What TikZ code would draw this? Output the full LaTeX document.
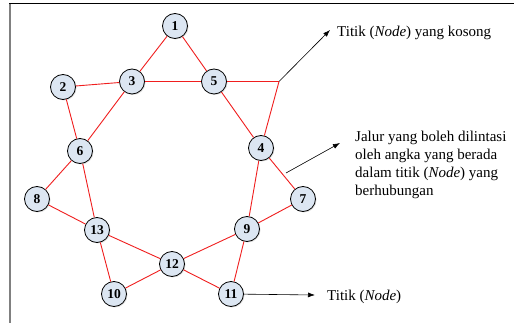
\documentclass[tikz,border=0pt]{standalone}
\usepackage{fontspec}
\setmainfont{Liberation Serif}
\usetikzlibrary{arrows.meta,shadows}
\begin{document}
\begin{tikzpicture}[x=1pt,y=-1pt,
  vert/.style={circle,draw=black,line width=0.8pt,fill={rgb,255:red,220;green,230;blue,242},minimum size=25pt,inner sep=0pt,font=\bfseries\fontsize{13.5}{13.5}\selectfont,drop shadow={shadow xshift=1pt,shadow yshift=-1pt,opacity=0.25}},
  link/.style={draw={rgb,255:red,240;green,30;blue,30},line width=0.9pt},
  note/.style={black,line width=0.6pt,-{Latex[length=7pt,width=5pt]}},
  lbl/.style={font=\fontsize{15}{18}\selectfont,inner sep=0pt,align=left}]
\useasboundingbox (0,0) rectangle (514,323);
\fill[white] (0,0) rectangle (514,323);
\draw[black,line width=1pt] (9,4) -- (514,4);
\draw[gray,line width=2pt] (10,4) -- (10,323);
\coordinate (J) at (279,81.5);
\coordinate (e47) at (286,173);
\node[vert] (n1) at (175,26) {1};
\node[vert] (n2) at (63,87) {2};
\node[vert] (n3) at (132,81.5) {3};
\node[vert] (n5) at (214,81.5) {5};
\node[vert] (n6) at (80,151) {6};
\node[vert] (n4) at (261,148) {4};
\node[vert] (n8) at (37,199) {8};
\node[vert] (n7) at (303,199) {7};
\node[vert] (n13) at (97,230) {13};
\node[vert] (n9) at (247,229) {9};
\node[vert] (n12) at (172,264) {12};
\node[vert] (n10) at (114,294) {10};
\node[vert] (n11) at (231,294) {11};
\draw[link] (n1) -- (n3);
\draw[link] (n1) -- (n5);
\draw[link] (n2) -- (n3);
\draw[link] (n3) -- (n5);
\draw[link] (n5) -- (J);
\draw[link] (n2) -- (n6);
\draw[link] (n3) -- (n6);
\draw[link] (n5) -- (n4);
\draw[link] (J) -- (n4);
\draw[link] (n6) -- (n8);
\draw[link] (n6) -- (n13);
\draw[link] (n4) -- (n7);
\draw[link] (n4) -- (n9);
\draw[link] (n8) -- (n13);
\draw[link] (n7) -- (n9);
\draw[link] (n13) -- (n12);
\draw[link] (n9) -- (n12);
\draw[link] (n13) -- (n10);
\draw[link] (n9) -- (n11);
\draw[link] (n10) -- (n12);
\draw[link] (n12) -- (n11);
\coordinate (a1) at (330,30);
\coordinate (a2) at (340,143);
\coordinate (a3) at (315,295);
\draw[note] (J) -- (a1);
\draw[note] (e47) -- (a2);
\draw[note] (n11) -- (a3);
\node[lbl,anchor=base west] (t1) at (337,37) {Titik (\textit{Node}) yang kosong};
\node[lbl,anchor=north west] (t2) at (355,131) {Jalur yang boleh dilintasi\\oleh angka yang berada\\dalam titik (\textit{Node}) yang\\berhubungan};
\node[lbl,anchor=base west] (t3) at (327,300) {Titik (\textit{Node})};
\end{tikzpicture}
\end{document}
